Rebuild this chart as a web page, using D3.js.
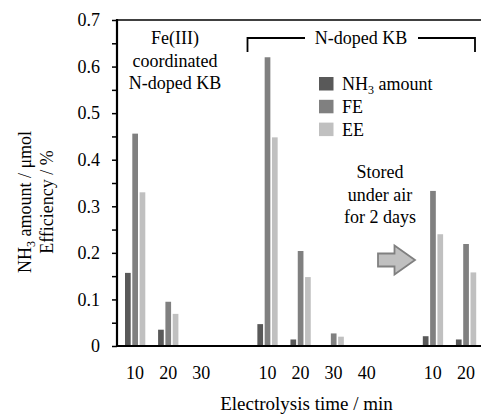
<!DOCTYPE html>
<html>
<head>
<meta charset="utf-8">
<script src="https://cdn.jsdelivr.net/npm/d3@7"></script>
<style>
  body { margin: 0; background: #fff; }
  svg text { font-family: "Liberation Serif", "Times New Roman", Times, serif; }
</style>
</head>
<body>
<svg id="chart" width="481" height="414"></svg>
<script>
// Chart data
var slots = ["Fe-10", "Fe-20", "Fe-30", "gap1", "N-10", "N-20", "N-30", "N-40", "gap2", "S-10", "S-20"];
var slotLabels = ["10", "20", "30", "", "10", "20", "30", "40", "", "10", "20"];
var series = ["NH3 amount", "FE", "EE"];
var nh3Amount = [0.157, 0.035, 0, null, 0.047, 0.014, 0, 0, null, 0.021, 0.014];
var feValues = [0.456, 0.095, 0, null, 0.62, 0.204, 0.027, 0, null, 0.333, 0.219];
var eeValues = [0.33, 0.069, 0, null, 0.448, 0.148, 0.020, 0, null, 0.240, 0.158];
var yTicks = [0, 0.05, 0.1, 0.15, 0.2, 0.25, 0.3, 0.35, 0.4, 0.45, 0.5, 0.55, 0.6, 0.65, 0.7];
var colors = ["#595959", "#808080", "#c0c0c0"];

var svg = d3.select("#chart");
var left = 117, plotTop = 20, bottom = 346, right = 481;

// Scales
var x = d3.scaleBand().domain(slots).range([118.5, 482.5]);
var xs = d3.scaleBand().domain(series).range([6.5, 26.8]).paddingInner(0.22);
var y = d3.scaleLinear().domain([0, 0.7]).range([bottom, plotTop]);

// Bars
var allValues = [nh3Amount, feValues, eeValues];
series.forEach(function(s, si) {
    var rows = slots.map(function(k, i) { return { key: k, v: allValues[si][i] }; })
        .filter(function(d) { return d.v != null && d.v > 0; });
    svg.append("g").selectAll("rect")
        .data(rows)
        .enter().append("rect")
        .attr("x", function(d) { return x(d.key) + xs(s); })
        .attr("y", function(d) { return y(d.v); })
        .attr("width", xs.bandwidth())
        .attr("height", function(d) { return bottom - y(d.v); })
        .attr("fill", colors[si]);
});

// Y axis
var yAxis = d3.axisLeft(y)
    .tickValues(yTicks)
    .tickSize(5)
    .tickPadding(12)
    .tickFormat(function(d) {
        var n = Math.round(d * 100);
        if (n % 10 != 0) return "";
        return n == 0 ? "0" : (n / 100).toFixed(1);
    });
var gy = svg.append("g").attr("transform", "translate(" + left + ",0)").call(yAxis);
gy.attr("font-family", null);
gy.select(".domain").remove();
gy.selectAll("line").attr("stroke", "#000").attr("stroke-width", 1.5);
gy.selectAll("text").attr("font-size", 18).attr("fill", "#000");

// X axis
var xAxis = d3.axisBottom(x)
    .tickValues(slots.filter(function(k, i) { return slotLabels[i] != ""; }))
    .tickSize(0)
    .tickPadding(20)
    .tickFormat(function(k) { return slotLabels[slots.indexOf(k)]; });
var gx = svg.append("g").attr("transform", "translate(0," + bottom + ")").call(xAxis);
gx.attr("font-family", null);
gx.select(".domain").remove();
gx.selectAll("text").attr("font-size", 18).attr("fill", "#000");

// Frame lines
svg.append("line").attr("x1", left).attr("x2", left).attr("y1", plotTop - 1).attr("y2", bottom + 1)
    .attr("stroke", "#000").attr("stroke-width", 2.2);
svg.append("line").attr("x1", left - 1).attr("x2", right).attr("y1", bottom).attr("y2", bottom)
    .attr("stroke", "#000").attr("stroke-width", 2.2);
svg.append("line").attr("x1", left).attr("x2", right).attr("y1", plotTop).attr("y2", plotTop)
    .attr("stroke", "#000").attr("stroke-width", 1.6);

// Axis titles
svg.append("text")
    .attr("x", (x("N-20") + x("N-30")) / 2 + 6)
    .attr("y", 410)
    .attr("text-anchor", "middle")
    .attr("font-size", 19)
    .text("Electrolysis time / min");

var yt = svg.append("text")
    .attr("transform", "translate(31,202) rotate(-90)")
    .attr("text-anchor", "middle")
    .attr("font-size", 18);
yt.append("tspan").text("NH");
yt.append("tspan").attr("font-size", 12).attr("dy", 4).text("3");
yt.append("tspan").attr("dy", -4).text(" amount / \u03bcmol");
svg.append("text")
    .attr("transform", "translate(53,202) rotate(-90)")
    .attr("text-anchor", "middle")
    .attr("font-size", 18)
    .text("Efficiency / %");

// Group annotation: Fe(III) coordinated
var feLines = ["Fe(III)", "coordinated", "N-doped KB"];
svg.append("g").selectAll("text")
    .data(feLines)
    .enter().append("text")
    .attr("x", 175)
    .attr("y", function(d, i) { return 44 + i * 22.5; })
    .attr("text-anchor", "middle")
    .attr("font-size", 18)
    .text(function(d) { return d; });

// Bracket for N-doped KB
var bx1 = 247.5, bx2 = 475, by = 38;
svg.append("path")
    .attr("d", "M" + bx1 + "," + (by + 14) + "V" + by + "H305 M418," + by + "H" + bx2 + "V" + (by + 14))
    .attr("fill", "none")
    .attr("stroke", "#000")
    .attr("stroke-width", 1.8);
svg.append("text")
    .attr("x", 361)
    .attr("y", 44)
    .attr("text-anchor", "middle")
    .attr("font-size", 18)
    .text("N-doped KB");

// Legend
var lg = svg.append("g").attr("transform", "translate(319,77)");
series.forEach(function(s, i) {
    lg.append("rect")
        .attr("x", 0)
        .attr("y", i * 22.8)
        .attr("width", 14.5)
        .attr("height", 13.5)
        .attr("fill", colors[i]);
    var t = lg.append("text")
        .attr("x", 23)
        .attr("y", i * 22.8 + 13)
        .attr("font-size", 18);
    if (i == 0) {
        t.append("tspan").text("NH");
        t.append("tspan").attr("font-size", 12).attr("dy", 4).text("3");
        t.append("tspan").attr("dy", -4).text(" amount");
    } else {
        t.text(s);
    }
});

// Stored note and arrow
var noteLines = ["Stored", "under air", "for 2 days"];
svg.append("g").selectAll("text")
    .data(noteLines)
    .enter().append("text")
    .attr("x", 380)
    .attr("y", function(d, i) { return 178 + i * 22.5; })
    .attr("text-anchor", "middle")
    .attr("font-size", 18)
    .text(function(d) { return d; });

svg.append("path")
    .attr("d", "M378,253.5 H394.5 V245.5 L415,260 L394.5,274.5 V266.5 H378 Z")
    .attr("fill", "#c0c0c0")
    .attr("stroke", "#808080")
    .attr("stroke-width", 1.8);
</script>
</body>
</html>
